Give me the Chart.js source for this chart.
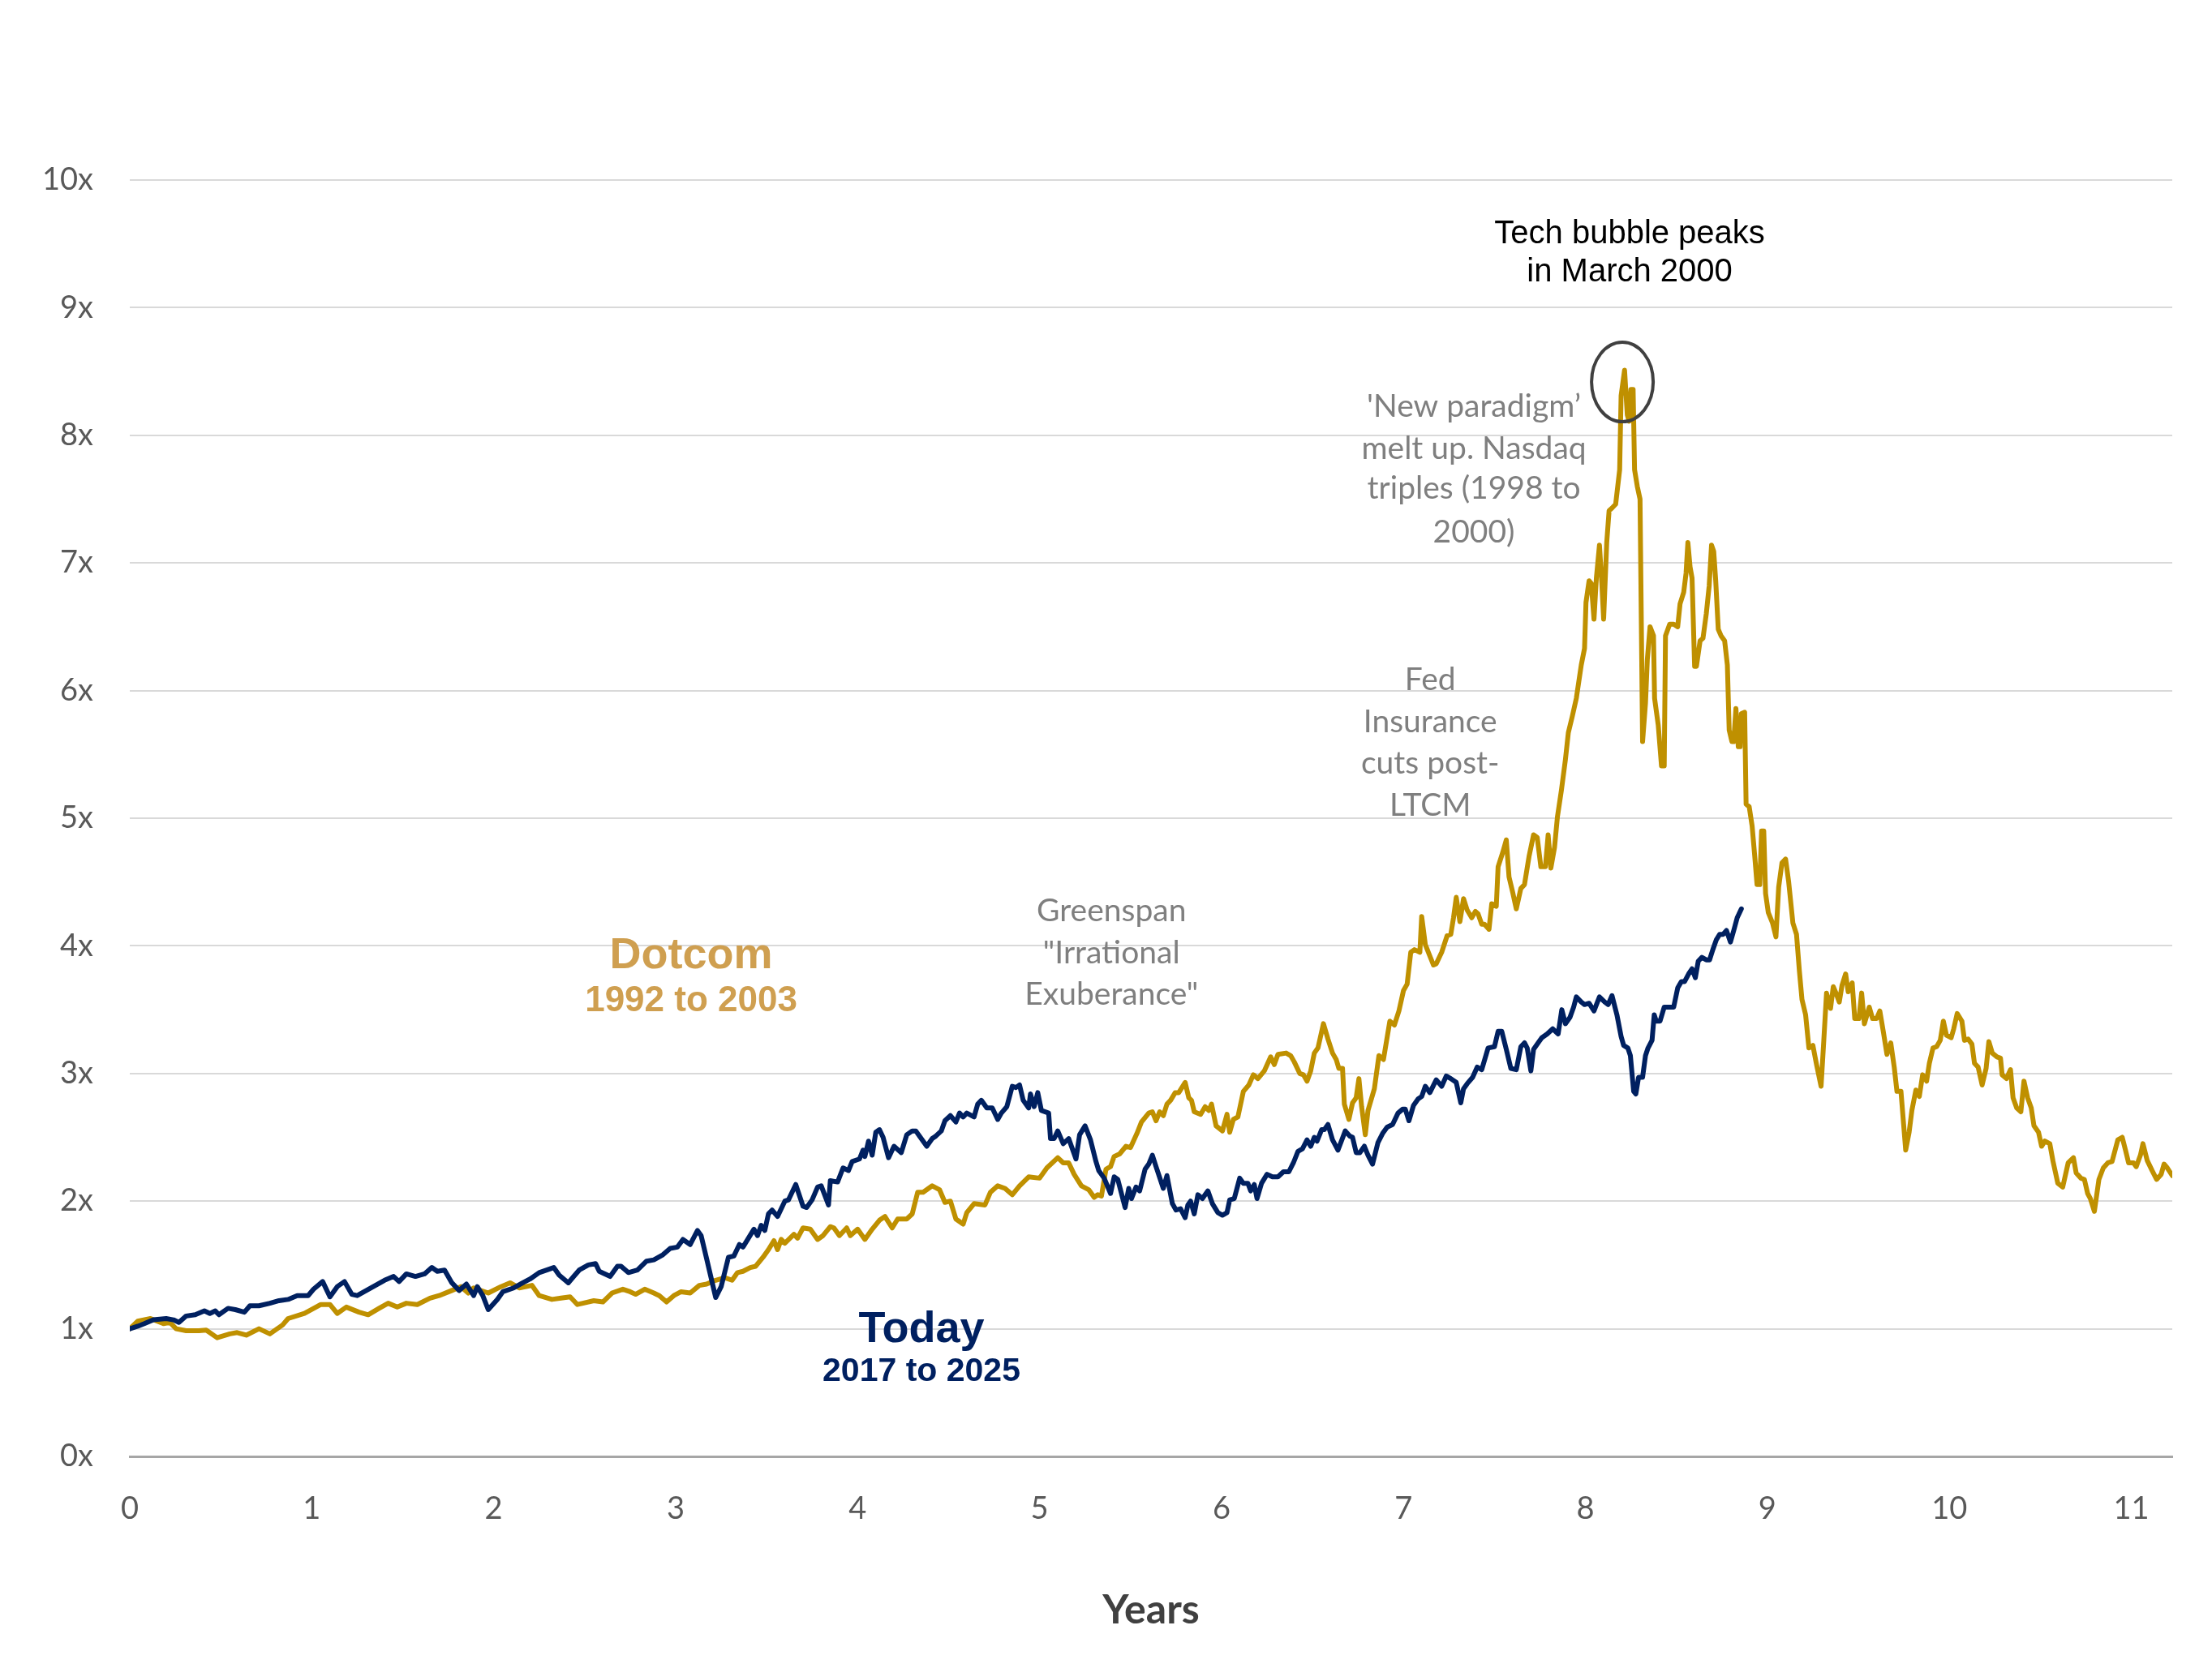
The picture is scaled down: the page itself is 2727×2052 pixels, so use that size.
<!DOCTYPE html>
<html><head><meta charset="utf-8">
<script src="https://cdn.jsdelivr.net/npm/chart.js@4.4.1/dist/chart.umd.min.js"></script>
<style>html,body{margin:0;padding:0;background:#fff;}#wrap{width:2727px;height:2052px;}</style>
</head><body><div id="wrap"><canvas id="c" width="2727" height="2052"></canvas></div>
<script>
// ---- Data (years since start, multiple of starting value) ----
const dotcomYears = [
0,0.044,0.114,0.185,0.22,0.255,0.31,0.38,0.42,0.48,
0.55,0.59,0.64,0.71,0.77,0.84,0.87,0.96,1.05,1.10,
1.14,1.19,1.26,1.31,1.37,1.42,1.47,1.52,1.58,1.65,
1.70,1.77,1.82,1.86,1.89,1.97,2.04,2.09,2.14,2.21,
2.25,2.32,2.37,2.42,2.46,2.49,2.55,2.60,2.65,2.71,
2.75,2.78,2.83,2.88,2.91,2.95,2.99,3.03,3.08,3.13,
3.17,3.22,3.27,3.31,3.34,3.37,3.41,3.44,3.48,3.51,
3.54,3.56,3.58,3.60,3.65,3.67,3.70,3.74,3.78,3.81,
3.85,3.87,3.90,3.94,3.96,4.00,4.04,4.08,4.12,4.15,
4.19,4.22,4.27,4.30,4.33,4.36,4.41,4.45,4.48,4.51,
4.54,4.58,4.60,4.64,4.70,4.73,4.77,4.81,4.85,4.89,
4.94,5.00,5.04,5.10,5.13,5.16,5.19,5.23,5.27,5.30,
5.32,5.34,5.365,5.39,5.41,5.44,5.475,5.50,5.535,5.56,
5.60,5.62,5.64,5.66,5.68,5.70,5.72,5.745,5.765,5.80,
5.82,5.835,5.85,5.885,5.91,5.93,5.945,5.97,6.005,6.03,
6.045,6.065,6.09,6.12,6.15,6.175,6.20,6.235,6.27,6.29,
6.31,6.355,6.38,6.40,6.43,6.45,6.47,6.49,6.51,6.53,
6.56,6.585,6.61,6.63,6.645,6.665,6.675,6.70,6.72,6.74,
6.755,6.77,6.79,6.805,6.84,6.865,6.89,6.925,6.95,6.975,
7.00,7.02,7.04,7.06,7.09,7.10,7.12,7.145,7.165,7.18,
7.21,7.24,7.26,7.275,7.29,7.31,7.33,7.35,7.375,7.395,
7.41,7.43,7.445,7.47,7.485,7.51,7.52,7.545,7.565,7.58,
7.60,7.62,7.645,7.665,7.69,7.715,7.735,7.755,7.78,7.795,
7.81,7.83,7.846,7.868,7.89,7.906,7.928,7.95,7.977,7.995,
8.003,8.02,8.032,8.047,8.06,8.077,8.09,8.10,8.117,8.13,
8.146,8.166,8.188,8.196,8.215,8.23,8.24,8.25,8.262,8.27,
8.285,8.30,8.314,8.33,8.34,8.355,8.374,8.38,8.40,8.418,
8.433,8.44,8.463,8.485,8.507,8.52,8.54,8.553,8.563,8.575,
8.586,8.60,8.61,8.63,8.646,8.664,8.68,8.693,8.705,8.716,
8.73,8.745,8.765,8.78,8.79,8.805,8.815,8.827,8.84,8.85,
8.857,8.875,8.883,8.90,8.916,8.93,8.943,8.958,8.968,8.98,
8.99,9.005,9.028,9.047,9.062,9.08,9.10,9.117,9.14,9.16,
9.176,9.19,9.21,9.228,9.25,9.27,9.295,9.31,9.325,9.347,
9.362,9.377,9.395,9.41,9.43,9.444,9.466,9.48,9.503,9.518,
9.533,9.56,9.578,9.60,9.618,9.638,9.657,9.678,9.697,9.712,
9.734,9.76,9.779,9.794,9.816,9.835,9.853,9.875,9.89,9.91,
9.93,9.95,9.967,9.984,10.01,10.024,10.043,10.069,10.083,10.103,
10.124,10.138,10.158,10.18,10.202,10.217,10.236,10.262,10.281,10.29,
10.314,10.336,10.35,10.37,10.393,10.41,10.43,10.45,10.465,10.49,
10.507,10.525,10.552,10.57,10.596,10.623,10.653,10.682,10.697,10.723,
10.742,10.76,10.775,10.797,10.822,10.846,10.871,10.894,10.926,10.95,
10.968,10.985,11.012,11.027,11.05,11.064,11.087,11.114,11.139,11.164,
11.18,11.198,11.225];
const dotcomValues = [
1.0,1.06,1.08,1.04,1.05,1.0,0.985,0.985,0.99,0.93,
0.96,0.97,0.95,1.0,0.96,1.03,1.08,1.12,1.19,1.19,
1.12,1.17,1.13,1.11,1.16,1.20,1.17,1.20,1.19,1.24,
1.26,1.30,1.33,1.28,1.32,1.28,1.33,1.36,1.32,1.34,
1.26,1.23,1.24,1.25,1.19,1.20,1.22,1.21,1.28,1.31,
1.29,1.27,1.31,1.28,1.26,1.21,1.26,1.29,1.28,1.34,
1.35,1.38,1.40,1.38,1.44,1.45,1.48,1.49,1.56,1.62,
1.69,1.62,1.70,1.67,1.74,1.71,1.79,1.78,1.70,1.73,
1.80,1.79,1.73,1.79,1.73,1.78,1.70,1.78,1.85,1.88,
1.79,1.86,1.86,1.90,2.07,2.07,2.12,2.09,1.99,2.00,
1.86,1.82,1.91,1.98,1.97,2.07,2.12,2.10,2.05,2.12,
2.19,2.18,2.26,2.34,2.30,2.30,2.21,2.12,2.09,2.03,
2.05,2.04,2.25,2.27,2.35,2.37,2.43,2.42,2.53,2.62,
2.69,2.70,2.63,2.70,2.67,2.76,2.79,2.85,2.85,2.93,
2.81,2.79,2.70,2.68,2.74,2.71,2.76,2.59,2.55,2.68,
2.54,2.64,2.66,2.86,2.91,2.99,2.96,3.02,3.13,3.07,
3.15,3.16,3.14,3.09,3.00,2.99,2.94,3.02,3.16,3.20,
3.39,3.27,3.16,3.11,3.04,3.04,2.76,2.64,2.77,2.81,
2.96,2.74,2.52,2.71,2.88,3.14,3.11,3.41,3.38,3.49,
3.65,3.70,3.95,3.97,3.95,4.23,4.01,3.92,3.85,3.86,
3.95,4.08,4.09,4.22,4.38,4.19,4.37,4.28,4.22,4.27,
4.25,4.17,4.17,4.13,4.33,4.31,4.62,4.73,4.83,4.54,
4.42,4.29,4.45,4.48,4.70,4.87,4.85,4.62,4.62,4.87,
4.61,4.77,5.01,5.22,5.46,5.67,5.80,5.94,6.20,6.33,
6.69,6.86,6.84,6.56,6.88,7.14,6.84,6.56,7.16,7.41,
7.43,7.46,7.73,8.31,8.51,8.16,8.11,8.36,8.36,7.73,
7.60,7.50,5.60,5.90,6.24,6.50,6.43,5.94,5.73,5.41,
5.41,6.43,6.52,6.52,6.50,6.68,6.77,6.92,7.16,6.97,
6.88,6.19,6.19,6.39,6.41,6.60,6.82,7.14,7.09,6.86,
6.48,6.43,6.39,6.20,5.69,5.60,5.60,5.86,5.56,5.56,
5.82,5.83,5.11,5.09,4.94,4.71,4.48,4.48,4.90,4.90,
4.41,4.26,4.18,4.07,4.46,4.65,4.68,4.50,4.18,4.09,
3.80,3.58,3.46,3.20,3.22,3.07,2.90,3.26,3.63,3.51,
3.68,3.63,3.56,3.69,3.78,3.64,3.71,3.43,3.43,3.63,
3.39,3.52,3.43,3.43,3.49,3.32,3.15,3.24,3.05,2.86,
2.86,2.40,2.54,2.71,2.87,2.82,2.99,2.94,3.08,3.20,
3.21,3.26,3.41,3.30,3.28,3.35,3.47,3.41,3.26,3.27,
3.23,3.08,3.05,2.91,3.04,3.25,3.16,3.13,3.12,2.99,
2.96,3.03,2.81,2.73,2.70,2.94,2.81,2.73,2.59,2.54,
2.43,2.47,2.45,2.31,2.14,2.11,2.30,2.34,2.22,2.18,
2.17,2.06,2.02,1.92,2.17,2.26,2.30,2.31,2.48,2.50,
2.40,2.30,2.30,2.27,2.36,2.45,2.32,2.24,2.17,2.21,
2.29,2.26,2.20];

const todayYears = [
0,0.044,0.08,0.13,0.2,0.24,0.27,0.31,0.36,0.41,
0.44,0.47,0.49,0.54,0.58,0.63,0.66,0.71,0.77,0.82,
0.87,0.92,0.98,1.01,1.06,1.10,1.14,1.18,1.22,1.25,
1.30,1.35,1.40,1.45,1.48,1.52,1.57,1.62,1.66,1.69,
1.73,1.77,1.81,1.85,1.89,1.91,1.94,1.97,2.02,2.05,
2.11,2.16,2.20,2.25,2.33,2.36,2.41,2.44,2.47,2.52,
2.56,2.58,2.64,2.68,2.70,2.74,2.79,2.84,2.88,2.93,
2.97,3.01,3.04,3.08,3.12,3.14,3.17,3.22,3.25,3.29,
3.32,3.35,3.37,3.40,3.43,3.45,3.47,3.49,3.51,3.53,
3.56,3.60,3.62,3.66,3.70,3.72,3.75,3.78,3.80,3.84,
3.85,3.89,3.92,3.95,3.97,4.01,4.03,4.04,4.06,4.08,
4.10,4.12,4.14,4.17,4.20,4.24,4.27,4.30,4.32,4.34,
4.38,4.41,4.43,4.46,4.48,4.51,4.54,4.56,4.58,4.60,
4.64,4.66,4.68,4.71,4.74,4.77,4.79,4.82,4.85,4.87,
4.89,4.91,4.94,4.95,4.97,4.99,5.01,5.05,5.06,5.08,
5.10,5.13,5.16,5.20,5.22,5.25,5.28,5.31,5.325,5.355,
5.39,5.41,5.43,5.47,5.49,5.505,5.53,5.55,5.58,5.60,
5.62,5.64,5.68,5.70,5.73,5.75,5.775,5.80,5.815,5.83,
5.85,5.87,5.895,5.925,5.95,5.98,6.005,6.03,6.045,6.07,
6.10,6.12,6.145,6.16,6.18,6.195,6.22,6.25,6.28,6.31,
6.34,6.37,6.395,6.42,6.445,6.47,6.49,6.51,6.525,6.55,
6.565,6.585,6.61,6.64,6.68,6.705,6.72,6.74,6.76,6.785,
6.805,6.83,6.86,6.885,6.91,6.94,6.97,6.995,7.01,7.03,
7.055,7.08,7.10,7.12,7.145,7.18,7.21,7.235,7.26,7.29,
7.315,7.33,7.35,7.38,7.405,7.43,7.465,7.50,7.52,7.54,
7.565,7.59,7.62,7.645,7.665,7.68,7.70,7.715,7.74,7.76,
7.79,7.82,7.85,7.87,7.89,7.915,7.935,7.95,7.977,7.995,
8.02,8.047,8.077,8.106,8.125,8.146,8.173,8.196,8.21,8.233,
8.247,8.265,8.277,8.292,8.314,8.33,8.344,8.366,8.378,8.389,
8.41,8.433,8.463,8.485,8.507,8.527,8.545,8.567,8.586,8.604,
8.62,8.64,8.664,8.682,8.70,8.72,8.738,8.756,8.775,8.797,
8.815,8.834,8.857];
const todayValues = [
1.0,1.02,1.04,1.07,1.08,1.07,1.05,1.10,1.11,1.14,
1.12,1.14,1.11,1.16,1.15,1.13,1.18,1.18,1.20,1.22,
1.23,1.26,1.26,1.31,1.37,1.25,1.33,1.37,1.27,1.26,
1.30,1.34,1.38,1.41,1.37,1.43,1.41,1.43,1.48,1.45,
1.46,1.36,1.30,1.35,1.26,1.33,1.26,1.15,1.23,1.29,
1.32,1.36,1.39,1.44,1.48,1.42,1.36,1.41,1.46,1.50,
1.51,1.45,1.41,1.49,1.49,1.44,1.46,1.53,1.54,1.58,
1.63,1.64,1.70,1.66,1.77,1.73,1.55,1.245,1.33,1.56,
1.57,1.66,1.64,1.71,1.78,1.73,1.81,1.77,1.90,1.93,
1.88,2.00,2.01,2.13,1.96,1.95,2.01,2.11,2.12,1.97,
2.16,2.15,2.26,2.24,2.31,2.33,2.40,2.35,2.47,2.36,
2.54,2.56,2.50,2.34,2.43,2.38,2.52,2.55,2.55,2.51,
2.43,2.49,2.51,2.55,2.63,2.67,2.62,2.69,2.66,2.69,
2.66,2.76,2.79,2.73,2.73,2.64,2.69,2.74,2.90,2.89,
2.91,2.79,2.73,2.84,2.74,2.85,2.71,2.69,2.49,2.49,
2.55,2.45,2.49,2.33,2.52,2.59,2.48,2.31,2.24,2.18,
2.06,2.19,2.17,1.95,2.10,2.02,2.11,2.08,2.25,2.29,
2.36,2.27,2.10,2.20,1.98,1.93,1.94,1.87,1.97,2.00,
1.90,2.05,2.02,2.08,1.98,1.91,1.89,1.91,2.01,2.02,
2.18,2.14,2.14,2.08,2.13,2.02,2.14,2.21,2.19,2.19,
2.23,2.23,2.30,2.39,2.41,2.48,2.43,2.50,2.47,2.56,
2.56,2.60,2.48,2.40,2.55,2.51,2.50,2.38,2.38,2.43,
2.36,2.29,2.46,2.53,2.58,2.60,2.69,2.72,2.72,2.63,
2.75,2.80,2.82,2.90,2.85,2.95,2.90,2.98,2.96,2.93,
2.77,2.88,2.92,2.97,3.05,3.03,3.20,3.21,3.33,3.33,
3.19,3.04,3.03,3.21,3.24,3.20,3.02,3.19,3.24,3.28,
3.31,3.35,3.31,3.50,3.39,3.44,3.52,3.60,3.56,3.54,
3.55,3.49,3.60,3.56,3.54,3.61,3.46,3.29,3.22,3.20,
3.14,2.86,2.84,2.97,2.97,3.14,3.20,3.26,3.46,3.41,
3.41,3.52,3.52,3.52,3.67,3.72,3.72,3.78,3.82,3.75,
3.88,3.91,3.89,3.89,3.97,4.05,4.09,4.09,4.12,4.03,
4.12,4.22,4.29];

const xTicks = [0,1,2,3,4,5,6,7,8,9,10,11];
const yTicks = [0,1,2,3,4,5,6,7,8,9,10];
const seriesNames = ['Dotcom', 'Today'];

// ---- Annotations (positioned in data coordinates) ----
const GRAY = '#7f7f7f';
const SANS = 'Lato, "Noto Sans", sans-serif';
const ARIAL = '"Liberation Sans", Arial, sans-serif';
const notes = [
  {lines:['Tech bubble peaks','in March 2000'], x:8.243, y:[9.574,9.276], color:'#000000', font:'40px ' + ARIAL},
  {lines:['\'New paradigm\u2019','melt up. Nasdaq','triples (1998 to','2000)'], x:7.387, y:[8.227,7.897,7.580,7.243], color:GRAY, font:'39px ' + SANS},
  {lines:['Fed','Insurance','cuts post-','LTCM'], x:7.147, y:[6.086,5.756,5.432,5.102], color:GRAY, font:'39px ' + SANS},
  {lines:['Greenspan','"Irrational','Exuberance"'], x:5.395, y:[4.276,3.945,3.621], color:GRAY, font:'39px ' + SANS},
  {lines:['Dotcom'], x:3.085, y:[3.92], color:'#CF9F50', font:'bold 54px ' + ARIAL},
  {lines:['1992 to 2003'], x:3.085, y:[3.564], color:'#CF9F50', font:'bold 44px ' + ARIAL},
  {lines:['Today'], x:4.351, y:[0.991], color:'#002060', font:'bold 54px ' + ARIAL},
  {lines:['2017 to 2025'], x:4.351, y:[0.661], color:'#002060', font:'bold 41px ' + ARIAL}
];
const peakMarker = {x:8.203, y:8.418, rx:38, ry:49};

const notesPlugin = {
  id: 'notes',
  afterDatasetsDraw(chart) {
    const {ctx, scales} = chart;
    const sx = scales.x, sy = scales.y;
    ctx.save();
    ctx.beginPath();
    ctx.ellipse(sx.getPixelForValue(peakMarker.x), sy.getPixelForValue(peakMarker.y), peakMarker.rx, peakMarker.ry, 0, 0, Math.PI * 2);
    ctx.lineWidth = 4;
    ctx.strokeStyle = '#404040';
    ctx.stroke();
    ctx.textAlign = 'center';
    ctx.textBaseline = 'middle';
    notes.forEach(n => {
      ctx.font = n.font;
      ctx.fillStyle = n.color;
      n.lines.forEach((t, i) => ctx.fillText(t, sx.getPixelForValue(n.x), sy.getPixelForValue(n.y[i])));
    });
    ctx.restore();
  }
};

const toPoints = (xs, ys) => xs.map((x, i) => ({x: x, y: ys[i]}));

new Chart(document.getElementById('c'), {
  type: 'line',
  data: {
    datasets: [
      {label: seriesNames[0], data: toPoints(dotcomYears, dotcomValues), borderColor: '#BF9000', borderWidth: 6, borderJoinStyle: 'round', borderCapStyle: 'round', pointRadius: 0, tension: 0, order: 1},
      {label: seriesNames[1], data: toPoints(todayYears, todayValues), borderColor: '#002060', borderWidth: 6, borderJoinStyle: 'round', borderCapStyle: 'round', pointRadius: 0, tension: 0, order: 0}
    ]
  },
  options: {
    responsive: false,
    devicePixelRatio: 1,
    animation: false,
    events: [],
    layout: {padding: {top: 222, right: 49, left: 0, bottom: 0}},
    plugins: {legend: {display: false}, tooltip: {enabled: false}},
    scales: {
      x: {
        type: 'linear', min: 0, max: dotcomYears[dotcomYears.length - 1],
        afterBuildTicks: s => { s.ticks = xTicks.map(v => ({value: v})); },
        afterFit: s => { s.height = 256; },
        ticks: {color: '#595959', font: {family: SANS, size: 38}, padding: 42, maxRotation: 0, autoSkip: false},
        grid: {display: false, drawTicks: false},
        border: {display: true, color: '#a6a6a6', width: 3},
        title: {display: true, text: 'Years', color: '#404040', font: {family: SANS, size: 50, weight: 'bold'}, padding: {top: 0, bottom: 36}}
      },
      y: {
        type: 'linear', min: 0, max: 10,
        afterBuildTicks: s => { s.ticks = yTicks.map(v => ({value: v})); },
        afterFit: s => { s.width = 160; },
        ticks: {color: '#595959', font: {family: SANS, size: 38}, padding: 45, callback: v => v + 'x'},
        grid: {color: '#d9d9d9', lineWidth: 2, drawTicks: false},
        border: {display: false}
      }
    }
  },
  plugins: [notesPlugin]
});
</script>
</body></html>
